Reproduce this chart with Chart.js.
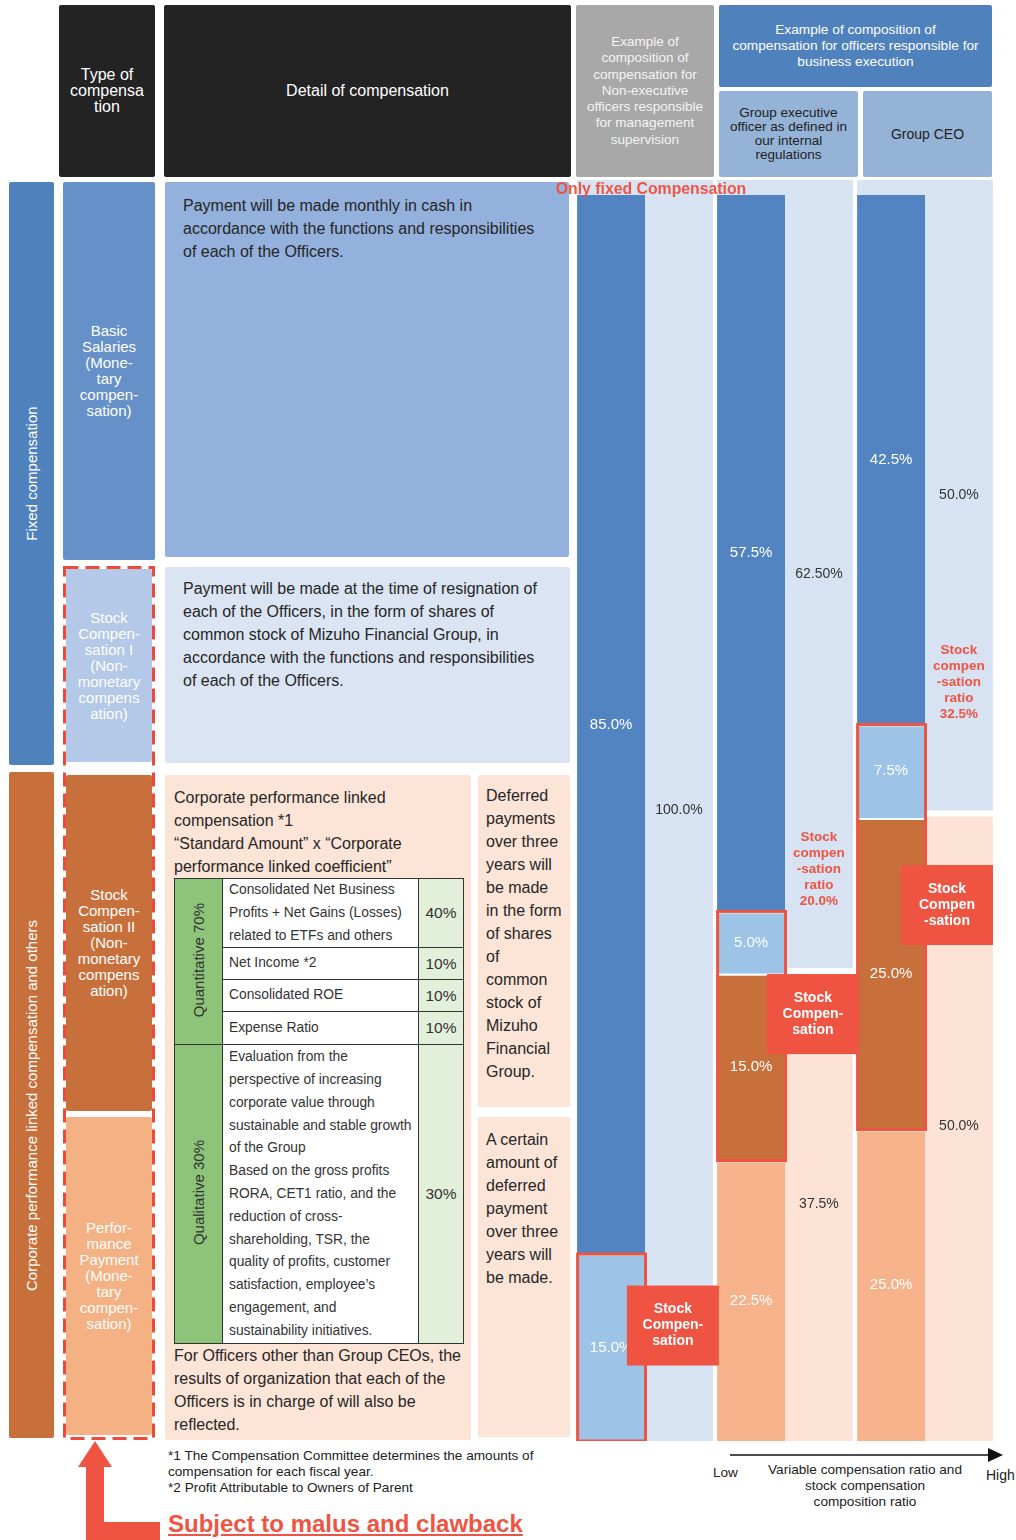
<!DOCTYPE html>
<html>
<head>
<meta charset="utf-8">
<script src="https://cdn.jsdelivr.net/npm/chart.js@4.4.1/dist/chart.umd.min.js"></script>
<style>
  body { margin: 0; background: #fff; font-family: "Liberation Sans", Arial, sans-serif; color: #222; }
  #page { position: relative; width: 1016px; height: 1540px; overflow: hidden; }
  .box { position: absolute; display: flex; align-items: center; justify-content: center; text-align: center; border-radius: 2px; }
  .dark { background: #232323; color: #fff; font-size: 16px; line-height: 16px; }
  .txt { position: absolute; font-size: 16px; line-height: 23px; color: #262626; white-space: nowrap; }
  .vert { transform: rotate(-90deg); white-space: nowrap; font-size: 15px; color: #fff; }
  .lbl { color: #fff; font-size: 15px; line-height: 16px; }
  table.metrics { position: absolute; left: 174px; top: 878px; width: 290px; border-collapse: collapse; table-layout: fixed; font-size: 13.8px; color: #333; }
  table.metrics td { border: 1.5px solid #333; padding: 0; }
  td.grp { background: #8dc47a; text-align: center; }
  td.grp span { display: inline-block; writing-mode: vertical-rl; transform: rotate(180deg); font-size: 15px; color: #333; }
  td.item { background: #fff; line-height: 22.8px; padding-left: 6px !important; white-space: nowrap; }
  td.pct { background: #e2efd9; text-align: center; font-size: 15.5px; }
  .note { position: absolute; font-size: 13.6px; line-height: 16px; color: #222; white-space: nowrap; }
  .layer { position: absolute; left: 575px; top: 180px; width: 420px; height: 1261px; }
</style>
</head>
<body>
<div id="page">

  <!-- header row -->
  <div class="box dark" style="left:59px;top:5px;width:96px;height:172px">Type of<br>compensa<br>tion</div>
  <div class="box dark" style="left:164px;top:5px;width:407px;height:172px">Detail of compensation</div>
  <div class="box" style="left:576px;top:5px;width:138px;height:172px;background:#a8a8a8;color:#f4f4f4;font-size:13.5px;line-height:16.2px">Example of<br>composition of<br>compensation for<br>Non-executive<br>officers responsible<br>for management<br>supervision</div>
  <div class="box" style="left:719px;top:5px;width:273px;height:82px;background:#4f81bd;color:#fff;font-size:13.7px;line-height:16px">Example of composition of<br>compensation for officers responsible for<br>business execution</div>
  <div class="box" style="left:719px;top:91px;width:139px;height:86px;background:#95b3d7;color:#222;font-size:13.5px;line-height:14px">Group executive<br>officer as defined in<br>our internal<br>regulations</div>
  <div class="box" style="left:863px;top:91px;width:129px;height:86px;background:#95b3d7;color:#222;font-size:14px">Group CEO</div>

  <!-- type of compensation -->
  <div class="box" style="left:9px;top:182px;width:45px;height:583px;background:#4f81bd"><span class="vert">Fixed compensation</span></div>
  <div class="box" style="left:9px;top:772px;width:45px;height:666px;background:#c8703c"><span class="vert">Corporate performance linked compensation and others</span></div>

  <div class="box lbl" style="left:63px;top:182px;width:92px;height:378px;background:#6690c8">Basic<br>Salaries<br>(Mone-<br>tary<br>compen-<br>sation)</div>
  <div class="box lbl" style="left:66px;top:569px;width:86px;height:193px;background:#b4c8e8">Stock<br>Compen-<br>sation I<br>(Non-<br>monetary<br>compens<br>ation)</div>
  <div class="box lbl" style="left:66px;top:775px;width:86px;height:336px;background:#c8703c">Stock<br>Compen-<br>sation II<br>(Non-<br>monetary<br>compens<br>ation)</div>
  <div class="box lbl" style="left:66px;top:1117px;width:86px;height:318px;background:#f4b183">Perfor-<br>mance<br>Payment<br>(Mone-<br>tary<br>compen-<br>sation)</div>

  <!-- detail of compensation -->
  <div class="box" style="left:165px;top:182px;width:404px;height:375px;background:#93b1dc"></div>
  <div class="txt" style="left:183px;top:194px">Payment will be made monthly in cash in<br>accordance with the functions and responsibilities<br>of each of the Officers.</div>

  <div class="box" style="left:165px;top:567px;width:405px;height:196px;background:#dae4f3"></div>
  <div class="txt" style="left:183px;top:577px">Payment will be made at the time of resignation of<br>each of the Officers, in the form of shares of<br>common stock of Mizuho Financial Group, in<br>accordance with the functions and responsibilities<br>of each of the Officers.</div>

  <div class="box" style="left:165px;top:775px;width:306px;height:665px;background:#fce4d7"></div>
  <div class="txt" style="left:174px;top:786px">Corporate performance linked<br>compensation *1<br>“Standard Amount” x “Corporate<br>performance linked coefficient”</div>

  <table class="metrics">
    <colgroup><col style="width:48px"><col style="width:196px"><col style="width:45px"></colgroup>
    <tr style="height:68px"><td class="grp" rowspan="4"><span>Quantitative 70%</span></td><td class="item">Consolidated Net Business<br>Profits + Net Gains (Losses)<br>related to ETFs and others</td><td class="pct">40%</td></tr>
    <tr style="height:32px"><td class="item">Net Income *2</td><td class="pct">10%</td></tr>
    <tr style="height:32px"><td class="item">Consolidated ROE</td><td class="pct">10%</td></tr>
    <tr style="height:33px"><td class="item">Expense Ratio</td><td class="pct">10%</td></tr>
    <tr style="height:299px"><td class="grp"><span>Qualitative 30%</span></td><td class="item">Evaluation from the<br>perspective of increasing<br>corporate value through<br>sustainable and stable growth<br>of the Group<br>Based on the gross profits<br>RORA, CET1 ratio, and the<br>reduction of cross-<br>shareholding, TSR, the<br>quality of profits, customer<br>satisfaction, employee’s<br>engagement, and<br>sustainability initiatives.</td><td class="pct">30%</td></tr>
  </table>

  <div class="txt" style="left:174px;top:1344px">For Officers other than Group CEOs, the<br>results of organization that each of the<br>Officers is in charge of will also be<br>reflected.</div>

  <div class="box" style="left:478px;top:775px;width:92px;height:332px;background:#fce4d7"></div>
  <div class="txt" style="left:486px;top:784px">Deferred<br>payments<br>over three<br>years will<br>be made<br>in the form<br>of shares<br>of<br>common<br>stock of<br>Mizuho<br>Financial<br>Group.</div>
  <div class="box" style="left:478px;top:1117px;width:92px;height:320px;background:#fce4d7"></div>
  <div class="txt" style="left:486px;top:1128px">A certain<br>amount of<br>deferred<br>payment<br>over three<br>years will<br>be made.</div>

  <!-- dashed outline + arrow -->
  <svg style="position:absolute;left:0;top:0" width="1016" height="1540">
    <rect x="64.5" y="567.5" width="89" height="871" fill="none" stroke="#ee4a3c" stroke-width="3" stroke-dasharray="14 7"/>
    <path d="M95 1441 L112 1467 L104 1467 L104 1522 L160 1522 L160 1540 L86 1540 L86 1467 L78 1467 Z" fill="#ef5442"/>
    <line x1="730" y1="1455" x2="992" y2="1455" stroke="#111" stroke-width="1.5"/>
    <path d="M988 1448 L1003 1455 L988 1462 Z" fill="#111"/>
  </svg>

  <!-- charts: ratio bars behind, composition bars in front -->
  <div class="layer"><canvas id="ratioChart" width="420" height="1261"></canvas></div>
  <div class="layer"><canvas id="payChart" width="420" height="1261"></canvas></div>
  <div style="position:absolute;left:551px;top:180px;width:200px;text-align:center;color:#ef5442;font-weight:bold;font-size:15.8px;z-index:2">Only fixed Compensation</div>

  <div class="note" style="left:713px;top:1465px">Low</div>
  <div class="note" style="left:755px;top:1462px;width:220px;text-align:center">Variable compensation ratio and<br>stock compensation<br>composition ratio</div>
  <div class="note" style="left:986px;top:1467px;font-size:14px">High</div>

  <div class="note" style="left:168px;top:1448px">*1 The Compensation Committee determines the amounts of<br>compensation for each fiscal year.<br>*2 Profit Attributable to Owners of Parent</div>
  <div style="position:absolute;left:168px;top:1510px;color:#ef5442;font-weight:bold;font-size:24px;text-decoration:underline;white-space:nowrap">Subject to malus and clawback</div>
</div>

<script>
const officers = ['Non-executive officers', 'Group executive officer', 'Group CEO'];

// composition of each officer's pay (%), stacked bottom to top
const performancePay = [0, 22.5, 25.0];
const stockTwo = [0, 15.0, 25.0];
const stockOne = [15.0, 5.0, 7.5];
const basicSalary = [85.0, 57.5, 42.5];

// fixed vs variable ratio behind each bar (%)
const variableRatio = [0, 37.5, 50.0];
const fixedRatio = [100.0, 62.5, 50.0];
const variableText = ['', '37.5%', '50.0%'];
const fixedText = ['100.0%', '62.50%', '50.0%'];

const stockRatioText = ['', '20.0%', '32.5%'];
const stockBoxLines = [['Stock', 'Compen-', 'sation'], ['Stock', 'Compen-', 'sation'], ['Stock', 'Compen', '-sation']];

const RED = '#ef5442';
const FONT = '"Liberation Sans", Arial, sans-serif';
const CAT_PCT = 0.97;

const hiddenScales = (max) => ({
  x: { type: 'category', display: false, stacked: true, offset: true },
  y: { type: 'linear', display: false, stacked: true, min: 0, max: max }
});

const baseOptions = {
  responsive: false,
  animation: false,
  devicePixelRatio: 1,
  categoryPercentage: CAT_PCT,
  barPercentage: 1,
  layout: { padding: 0 },
  plugins: { legend: { display: false }, tooltip: { enabled: false } }
};

// ---------- background: fixed / variable ratio ----------
const ratioLabels = {
  id: 'ratioLabels',
  afterDatasetsDraw(chart) {
    const ctx = chart.ctx;
    ctx.save();
    ctx.textAlign = 'center';
    ctx.textBaseline = 'middle';
    ctx.font = '14px ' + FONT;
    ctx.fillStyle = '#333';
    [[0, variableText], [1, fixedText]].forEach(([di, texts]) => {
      chart.getDatasetMeta(di).data.forEach((bar, j) => {
        if (!texts[j]) return;
        ctx.fillText(texts[j], bar.x + bar.width / 4, (bar.y + bar.base) / 2);
      });
    });
    ctx.restore();
  }
};

new Chart(document.getElementById('ratioChart'), {
  type: 'bar',
  data: {
    labels: officers,
    datasets: [
      { label: 'Variable', data: variableRatio, backgroundColor: '#fce3d6', stack: 'ratio',
        borderColor: '#fff', borderWidth: { top: 6 }, borderSkipped: false },
      { label: 'Fixed', data: fixedRatio, backgroundColor: '#d7e3f2', stack: 'ratio', borderWidth: 0 }
    ]
  },
  options: { ...baseOptions, scales: hiddenScales(100) },
  plugins: [ratioLabels]
});

// ---------- front: composition of compensation ----------
function seg(label, data, color, gap) {
  return {
    label, data, backgroundColor: color, stack: 'pay',
    borderColor: '#fff', borderWidth: gap ? { top: 2 } : 0, borderSkipped: false
  };
}

const payLabels = {
  id: 'payLabels',
  afterDatasetsDraw(chart) {
    const ctx = chart.ctx;
    const ds = chart.data.datasets;
    const xs = chart.scales.x;
    const halfCat = xs.width / officers.length * CAT_PCT / 2;
    ctx.save();
    ctx.textAlign = 'center';
    ctx.textBaseline = 'middle';

    ctx.font = '15px ' + FONT;
    ctx.fillStyle = '#fff';
    [0, 1, 2, 3].forEach(di => {
      chart.getDatasetMeta(di).data.forEach((bar, j) => {
        const v = ds[di].data[j];
        if (!v) return;
        ctx.fillText(v.toFixed(1) + '%', bar.x, (bar.y + bar.base) / 2);
      });
    });

    officers.forEach((name, j) => {
      const parts = [1, 2].filter(di => ds[di].data[j] > 0).map(di => chart.getDatasetMeta(di).data[j]);
      if (!parts.length) return;
      const top = Math.min(...parts.map(b => b.y));
      const bottom = Math.max(...parts.map(b => b.base));
      const w = parts[0].width;
      const left = parts[0].x - w / 2;
      ctx.strokeStyle = RED;
      ctx.lineWidth = 3;
      ctx.strokeRect(left + 0.5, top, w, bottom - top);

      const center = xs.getPixelForValue(j);
      const boxRight = Math.min(center + halfCat + 6, chart.width - 2);
      const boxW = 92, boxH = 80;
      const boxTop = (top + bottom) / 2 - boxH / 2 - 22;
      ctx.fillStyle = RED;
      ctx.fillRect(boxRight - boxW, boxTop, boxW, boxH);
      ctx.fillStyle = '#fff';
      ctx.font = 'bold 14px ' + FONT;
      stockBoxLines[j].forEach((line, k) => {
        ctx.fillText(line, boxRight - boxW / 2, boxTop + boxH / 2 + (k - 1) * 16);
      });

      if (stockRatioText[j]) {
        const lines = ['Stock', 'compen', '-sation', 'ratio', stockRatioText[j]];
        ctx.fillStyle = RED;
        ctx.font = 'bold 13.5px ' + FONT;
        const cx = center + halfCat / 2;
        lines.forEach((line, k) => {
          ctx.fillText(line, cx, top - 10 - (lines.length - 1 - k) * 16);
        });
      }
    });
    ctx.restore();
  }
};

new Chart(document.getElementById('payChart'), {
  type: 'bar',
  data: {
    labels: officers,
    datasets: [
      seg('Performance Payment', performancePay, '#f5b28b', true),
      seg('Stock Compensation II', stockTwo, '#c8703c', true),
      seg('Stock Compensation I', stockOne, '#9dc3e6', true),
      seg('Basic Salaries', basicSalary, '#5384c2', false),
      // empty stack that keeps the right half of each column free
      { label: 'spare', data: [0, 0, 0], stack: 'spare', backgroundColor: 'rgba(0,0,0,0)', borderWidth: 0 }
    ]
  },
  options: { ...baseOptions, scales: hiddenScales(101.2) },
  plugins: [payLabels]
});
</script>
</body>
</html>
